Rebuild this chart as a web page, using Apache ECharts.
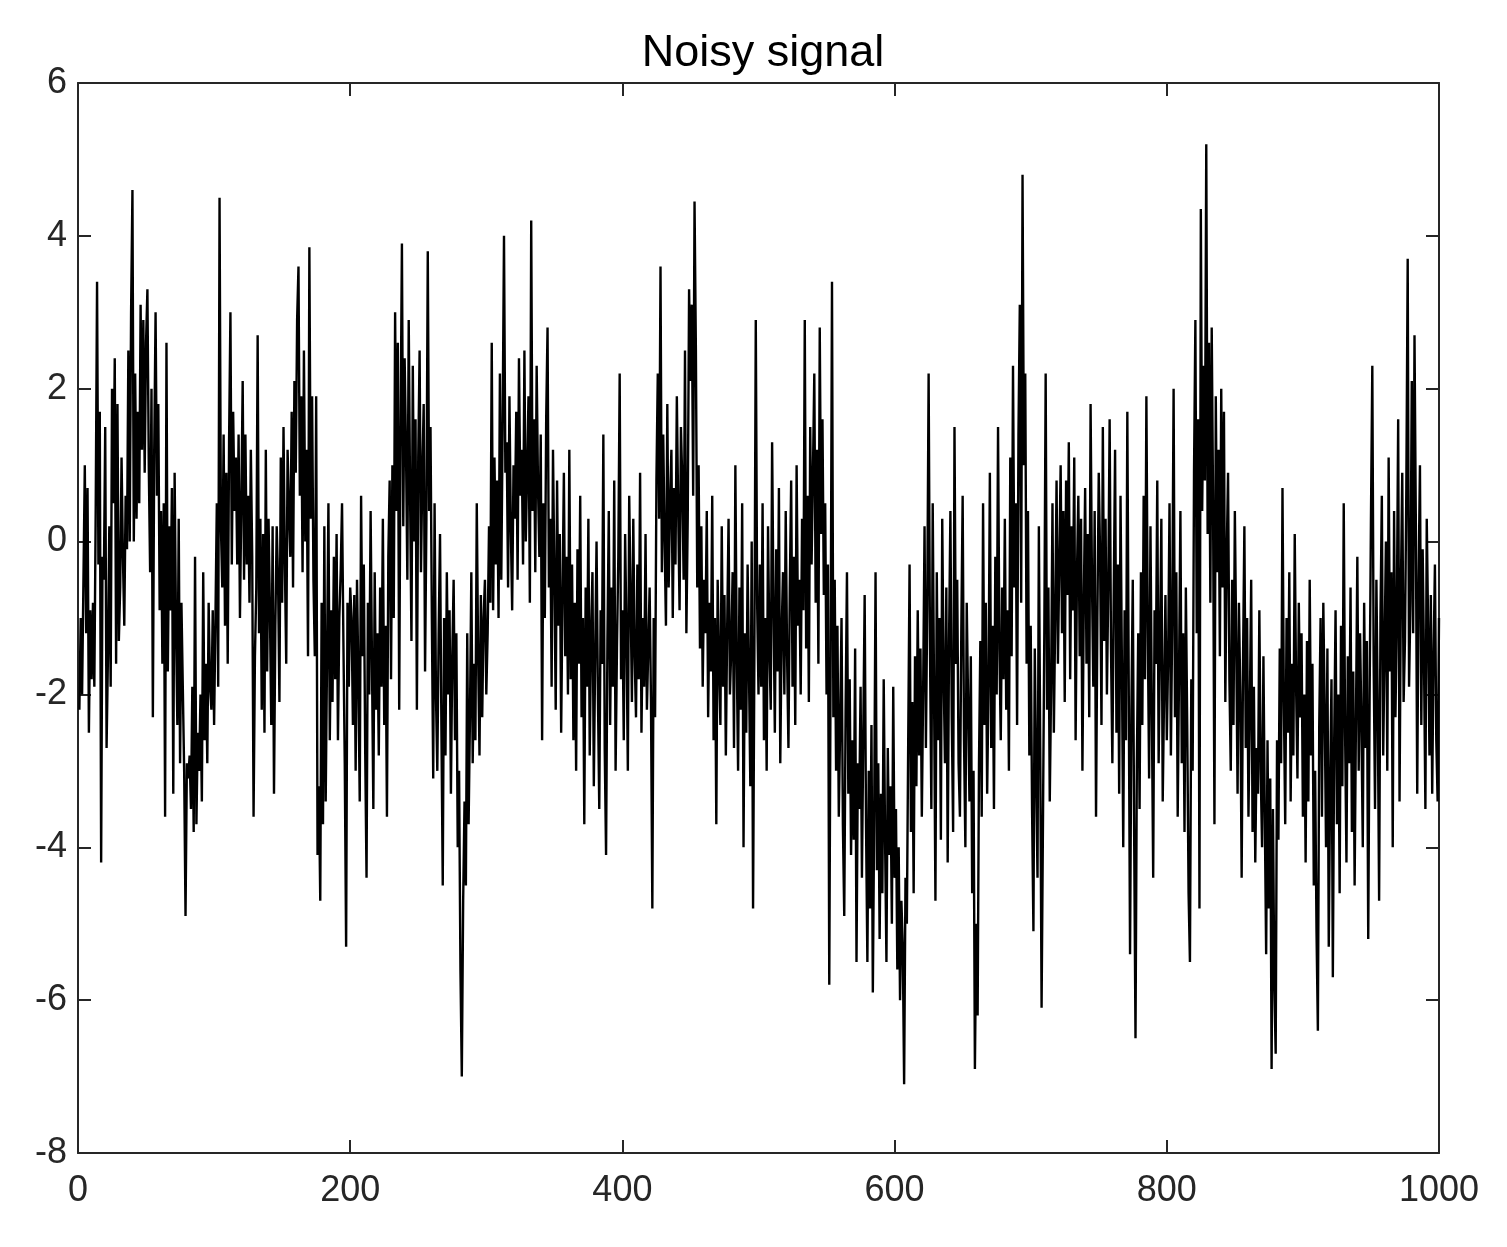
<!DOCTYPE html>
<html>
<head>
<meta charset="utf-8">
<script src="https://cdn.jsdelivr.net/npm/echarts@6/dist/echarts.min.js"></script>
<style>
html,body{margin:0;padding:0;background:#fff;}
#chart{width:1507px;height:1247px;}
</style>
</head>
<body>
<div id="chart"></div>
<script>
const titleText = 'Noisy signal';
const xTicks = [0, 200, 400, 600, 800, 1000];
const yTicks = [-8, -6, -4, -2, 0, 2, 4, 6];
const signal = [
-2.2,-1.0,-2.0,-0.5,1.0,-1.2,0.7,-2.5,-0.9,-1.8,-0.8,-1.9,0.4,3.4,-0.3,1.7,-4.2,-0.2,-0.5,1.5,
-2.7,-1.5,0.2,-1.9,2.0,0.5,2.4,-1.6,1.8,-1.3,-0.6,1.1,-0.2,-1.1,0.6,-0.1,2.5,0.0,3.0,4.6,
0.0,2.2,0.3,1.7,0.5,3.1,1.2,2.9,0.9,2.6,3.3,1.0,-0.4,2.0,-2.3,1.2,3.0,0.6,1.8,-0.9,
0.4,-1.6,0.5,-3.6,2.6,-1.7,0.2,-0.9,0.7,-3.3,0.9,-1.1,-2.4,0.3,-2.9,-0.8,-1.9,-3.0,-4.9,-2.9,
-3.1,-2.8,-3.5,-1.9,-3.8,-0.2,-3.7,-2.5,-3.0,-2.0,-3.4,-0.4,-2.6,-1.6,-2.9,-0.8,-1.9,-2.2,-0.9,-2.4,
-1.0,0.5,-1.9,4.5,0.2,-0.6,1.4,-1.1,0.9,-1.6,1.3,3.0,-0.3,1.7,0.4,1.1,-0.3,1.4,-1.0,0.5,
2.1,-0.5,1.4,-0.3,0.6,-0.8,1.2,-0.2,-3.6,-1.5,-0.6,2.7,-1.2,0.3,-2.2,0.1,-2.5,1.2,-1.7,0.3,
-0.9,-2.4,0.2,-3.3,-1.1,0.2,-0.5,-2.1,1.1,-0.8,1.5,-0.3,-1.6,1.2,0.4,-0.2,1.7,-0.6,2.1,0.9,
2.9,3.6,0.6,1.9,-0.4,2.5,0.0,1.2,-1.5,3.85,0.3,1.9,-0.5,-1.5,1.9,-4.1,-3.2,-4.7,-0.8,-3.7,
0.2,-3.4,-1.5,0.5,-2.6,-0.9,-2.1,-0.2,-1.8,0.1,-2.6,-1.0,-0.4,0.5,-1.3,-2.9,-5.3,-0.8,-1.9,-0.6,
-1.0,-2.4,-0.7,-3.0,-0.5,-1.8,-3.4,0.6,-1.5,-0.3,-2.7,-4.4,-0.8,-2.0,0.4,-1.6,-3.5,-0.4,-2.2,-1.2,
-2.8,-0.6,-1.9,0.3,-2.4,-1.1,-3.6,-0.2,0.8,-1.8,1.0,-1.0,3.0,0.4,2.6,-2.2,1.5,3.9,0.2,2.4,
1.2,-0.5,2.9,0.6,-1.3,2.3,0.0,1.6,-2.2,1.1,2.5,-0.4,0.9,1.8,-1.7,0.3,3.8,0.4,1.5,-1.0,
-3.1,0.5,-2.0,-3.0,-1.2,0.1,-2.4,-4.5,-1.0,-2.8,-0.4,-2.0,-0.9,-3.3,-1.5,-0.5,-2.6,-1.2,-4.0,-3.0,
-5.6,-7.0,-4.7,-3.4,-4.5,-1.2,-3.7,-2.3,-0.4,-2.9,-1.6,-2.6,0.5,-1.5,-2.8,-0.7,-2.3,-1.0,-0.5,-2.0,
-1.2,0.2,-0.8,2.6,-0.9,1.1,-0.3,0.8,-1.0,2.2,-0.5,1.5,4.0,0.9,1.3,-0.6,1.9,0.2,-0.9,1.0,
0.3,1.7,-0.5,2.4,0.6,1.2,-0.3,2.5,0.0,0.9,1.9,-0.8,4.2,0.4,1.6,-0.4,2.3,0.7,-0.2,1.4,
-2.6,0.5,-1.0,1.6,2.8,-0.6,0.3,-1.9,1.2,-0.4,-2.2,0.8,-1.1,0.1,-2.5,-0.7,0.9,-1.5,-0.2,-2.0,
1.2,-1.8,-0.3,-2.6,-0.8,-3.0,-0.1,-1.6,0.6,-2.3,-1.0,-3.7,-0.6,-1.9,0.3,-2.8,-1.2,-0.4,-3.2,-1.5,
0.0,-2.0,-3.5,-0.9,-1.6,1.4,-2.7,-4.1,-1.3,0.4,-2.4,-0.6,-1.9,0.8,-3.0,-1.4,-0.2,2.2,-1.8,-0.9,
-2.6,0.1,-1.2,-3.0,0.6,-0.7,-2.1,0.3,-1.5,-2.3,-0.3,-1.8,0.9,-2.5,-1.0,-1.9,0.1,-2.2,-1.4,-0.6,
-2.1,-4.8,-1.0,-2.3,0.8,2.2,0.3,3.6,-0.4,1.4,0.0,-1.1,1.8,-0.6,0.5,1.2,-1.0,0.7,-0.3,1.9,
0.4,-0.9,1.5,0.8,-0.5,2.5,-1.2,0.3,3.3,2.1,3.1,0.6,4.45,2.5,-0.6,1.0,-1.4,0.2,-1.9,-0.5,
-1.2,0.4,-2.3,-0.8,-1.7,0.6,-2.6,-1.0,-3.7,-0.5,-1.6,-2.4,0.2,-1.9,-0.7,-2.8,-1.1,0.3,-2.0,-1.4,
-0.4,-2.7,1.0,-1.5,-3.0,-0.6,-2.2,0.5,-4.0,-1.2,-2.5,-0.3,-1.7,-3.2,0.0,-4.8,-1.4,2.9,-0.8,-2.0,
-0.3,-1.9,0.5,-2.6,-1.0,-3.0,0.2,-1.4,-2.2,1.3,-0.8,-2.5,-0.1,-1.7,0.7,-2.9,-1.2,-0.4,-2.0,0.4,
-1.5,-2.7,-0.6,0.8,-1.9,-0.2,-2.4,1.0,-1.1,-0.5,-2.0,0.3,-0.9,2.9,-1.4,0.6,-2.1,1.5,-0.3,0.9,
2.2,-0.8,1.2,-1.6,2.8,0.1,1.6,-0.7,0.5,-2.0,-0.3,-5.8,-1.5,3.4,-2.3,-0.5,-3.0,-1.1,-3.6,-2.4,
-1.0,-3.7,-4.9,-2.2,-0.4,-3.3,-1.8,-4.1,-2.6,-3.9,-1.4,-5.5,-2.9,-3.5,-1.9,-4.4,-2.5,-0.7,-3.7,-5.5,
-3.0,-4.8,-2.4,-5.9,-3.6,-0.4,-4.3,-2.9,-5.2,-3.3,-4.6,-1.8,-3.9,-5.5,-2.7,-4.1,-3.2,-5.0,-1.9,-4.4,
-3.5,-5.6,-4.0,-6.0,-4.7,-5.3,-7.1,-4.4,-5.0,-2.6,-0.3,-3.8,-2.1,-4.6,-1.5,-3.2,-0.9,-2.8,-1.4,-3.6,
-1.9,0.2,-2.7,-0.8,2.2,-1.4,-3.5,0.5,-2.0,-4.7,-0.4,-2.6,-1.0,-3.9,0.3,-1.7,-2.9,-0.6,-4.2,-1.3,
0.4,-2.3,-3.8,1.5,-1.6,-0.5,-2.9,-3.6,-1.2,0.6,-2.6,-4.0,-0.8,-2.1,-3.4,-1.5,-4.6,-3.0,-6.9,-5.0,
-6.2,-2.9,-1.3,-3.6,0.5,-2.4,-0.8,-3.3,-1.9,0.9,-2.7,-1.1,-3.5,-0.2,-2.0,1.5,-1.4,-2.6,-0.6,-1.8,
0.3,-2.2,-0.9,-3.0,1.1,-1.5,2.3,-0.6,0.5,-2.4,1.4,3.1,-0.8,4.8,1.0,2.2,-1.6,0.4,-2.8,-1.1,
-3.5,-5.1,-1.4,-3.0,-4.4,0.2,-2.7,-6.1,-3.7,-1.2,2.2,-2.2,-0.6,-3.4,-1.9,0.5,-2.5,-1.0,0.8,-1.6,
-0.3,1.0,-1.2,0.4,-2.1,0.8,-0.7,1.3,-1.8,0.2,-0.9,1.1,-2.6,-0.4,0.6,-1.5,0.3,-3.0,-0.8,0.7,
-1.6,0.1,-2.3,1.8,-0.5,-1.9,0.4,-3.6,-1.0,0.9,-0.2,-2.4,1.5,-1.3,0.3,-2.0,-0.6,1.6,-1.4,-2.9,
-0.7,1.2,-2.5,-0.3,-3.3,0.6,-1.6,-4.0,-0.9,-2.6,1.7,-1.8,-5.4,-2.2,-0.5,-3.8,-6.5,-2.9,-1.2,-3.5,
-0.4,-2.4,0.6,-1.8,1.9,-1.1,-3.1,0.2,-2.2,-4.4,-0.9,-1.6,0.8,-2.9,-1.3,0.3,-3.4,-2.0,-0.7,-2.6,
-1.5,0.5,-2.8,-1.0,2.0,-2.3,-0.4,-3.6,-1.7,0.4,-2.9,-1.2,-3.8,-0.6,-2.4,-4.6,-5.5,-1.8,-3.0,0.9,
2.9,-1.2,1.6,-4.8,4.35,0.4,2.3,0.8,5.2,0.1,2.6,-0.8,2.8,0.5,-3.7,1.9,-0.4,1.2,-1.5,2.0,
-0.6,1.7,-2.1,-0.2,0.9,-1.8,-3.0,-0.5,-2.4,0.4,-1.3,-3.3,-0.8,-2.0,-4.4,-1.6,0.2,-2.7,-1.0,-3.6,
-2.2,-0.5,-3.8,-1.9,-4.2,-2.7,-3.3,-0.9,-3.0,-4.0,-1.5,-3.6,-5.4,-2.6,-4.8,-3.1,-6.9,-3.5,-5.8,-6.7,
-2.6,-3.9,-1.4,-2.9,0.7,-2.1,-3.7,-1.0,-2.5,-0.4,-3.4,-1.6,-2.8,0.1,-1.9,-3.1,-0.8,-2.3,-1.2,-3.6,
-2.0,-4.2,-1.3,-3.4,-0.5,-2.8,-1.6,-4.5,-3.0,-5.1,-6.4,-2.4,-1.0,-3.6,-0.8,-2.2,-4.0,-1.4,-5.3,-3.2,
-1.8,-5.7,-2.6,-0.9,-3.7,-2.0,-4.6,-1.1,-3.2,0.5,-2.5,-4.2,-1.5,-2.9,-0.6,-3.8,-1.7,-4.5,-2.3,-0.2,
-3.0,-1.2,-2.4,-4.0,-0.8,-2.7,-1.3,-5.2,-2.1,0.3,2.3,-1.6,-3.5,-0.5,-2.2,-4.7,-1.0,0.6,-2.8,-1.4,
0.0,-3.0,1.1,-1.7,-0.4,-4.0,0.4,-2.3,-1.0,1.6,-3.4,-0.6,0.9,-2.1,-1.3,0.7,3.7,-1.9,-0.8,2.1,
-1.2,2.7,0.2,-3.3,-0.5,1.0,-2.4,-0.1,-1.6,-3.5,0.3,-1.1,-2.8,-0.7,-3.3,-1.5,-0.3,-2.6,-3.4,-1.0
];

const chart = echarts.init(document.getElementById('chart'), null, {renderer: 'canvas'});
const data = signal.map((v, i) => [i + 1, v]);
const font = '"Liberation Sans", Arial, Helvetica, sans-serif';
const axisColor = '#262626';
const baseX = {
  type: 'value', min: xTicks[0], max: xTicks[xTicks.length - 1], interval: 200,
  axisLine: {show: true, onZero: false, lineStyle: {color: axisColor, width: 2}},
  axisTick: {show: true, inside: true, length: 13, lineStyle: {color: axisColor, width: 2}},
  splitLine: {show: false}
};
const baseY = {
  type: 'value', min: yTicks[0], max: yTicks[yTicks.length - 1], interval: 2,
  axisLine: {show: true, onZero: false, lineStyle: {color: axisColor, width: 2}},
  axisTick: {show: true, inside: true, length: 13, lineStyle: {color: axisColor, width: 2}},
  splitLine: {show: false}
};
chart.setOption({
  animation: false,
  backgroundColor: '#fff',
  title: {
    text: titleText, left: 758, top: 26, textAlign: 'center',
    textStyle: {fontFamily: font, fontSize: 45, fontWeight: 'normal', color: '#000'}
  },
  grid: {left: 78, right: 68, top: 83, bottom: 94},
  xAxis: [
    Object.assign({}, baseX, {position: 'bottom',
      axisLabel: {show: true, margin: 20, fontFamily: font, fontSize: 36, color: '#262626',
        formatter: v => String(v)}}),
    Object.assign({}, baseX, {position: 'top', axisLabel: {show: false}})
  ],
  yAxis: [
    Object.assign({}, baseY, {position: 'left',
      axisLabel: {show: true, margin: 11, fontFamily: font, fontSize: 36, color: '#262626',
        formatter: v => String(v)}}),
    Object.assign({}, baseY, {position: 'right', axisLabel: {show: false}})
  ],
  series: [{
    type: 'line', data: data, showSymbol: false, sampling: null,
    lineStyle: {color: '#000', width: 2.4}, xAxisIndex: 0, yAxisIndex: 0
  }]
});
</script>
</body>
</html>
